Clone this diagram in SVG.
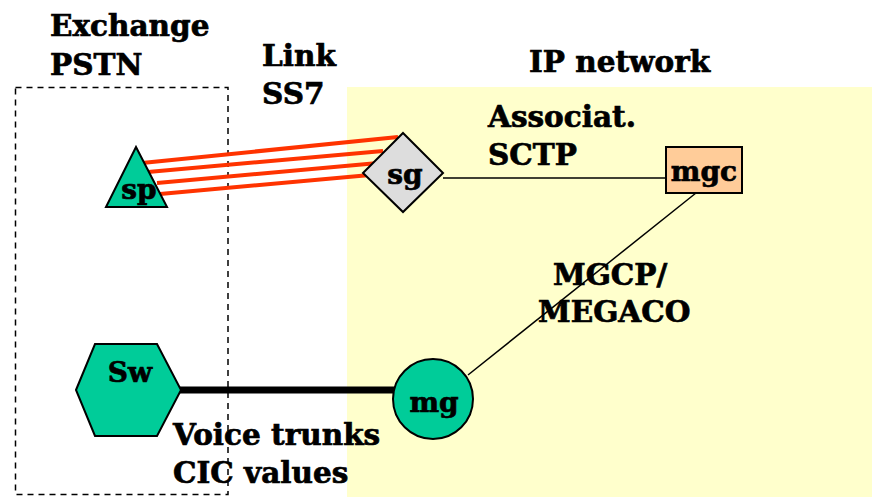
<svg xmlns="http://www.w3.org/2000/svg" width="872" height="497" viewBox="0 0 872 497">
  <style>
    .lbl { font-family: "DejaVu Serif", "Liberation Serif", serif; font-weight: bold; font-size: 29.5px; fill: #000; stroke: #000; stroke-width: 0.7; }
    .node-lbl { font-family: "DejaVu Serif", "Liberation Serif", serif; font-weight: bold; font-size: 28px; fill: #000; stroke: #000; stroke-width: 0.7; text-anchor: middle; }
    .green { fill: #00CC99; stroke: #000; stroke-width: 2; }
    .ss7 { stroke: #FF3300; stroke-width: 4; fill: none; }
    .thin { stroke: #000; stroke-width: 1.5; fill: none; }
  </style>

  <rect width="872" height="497" fill="#FFFFFF"/>

  <!-- IP network area -->
  <rect id="ip-area" x="347" y="87" width="525" height="410" fill="#FFFFCC"/>

  <!-- PSTN exchange boundary -->
  <rect id="pstn-box" x="15.5" y="87.5" width="212.5" height="407" fill="none" stroke="#000" stroke-width="1.5" stroke-dasharray="6,5"/>

  <!-- Area and link labels -->
  <text class="lbl" x="50" y="36">Exchange</text>
  <text class="lbl" x="50" y="75">PSTN</text>
  <text class="lbl" x="262" y="66">Link</text>
  <text class="lbl" x="262" y="104">SS7</text>
  <text class="lbl" x="529" y="72">IP network</text>
  <text class="lbl" x="488" y="127">Associat.</text>
  <text class="lbl" x="488" y="165">SCTP</text>
  <text class="lbl" x="553" y="285">MGCP/</text>
  <text class="lbl" x="538" y="322">MEGACO</text>
  <text class="lbl" x="173" y="445">Voice trunks</text>
  <text class="lbl" x="173" y="483">CIC values</text>

  <!-- Connectors -->
  <g id="connectors">
    <line class="ss7" x1="142" y1="163" x2="398" y2="137"/>
    <line class="ss7" x1="148" y1="172" x2="383" y2="151"/>
    <line class="ss7" x1="157" y1="183" x2="378" y2="163"/>
    <line class="ss7" x1="160" y1="194" x2="370" y2="175"/>
    <line class="thin" x1="443" y1="178" x2="666" y2="178"/>
    <line class="thin" x1="696" y1="193" x2="468" y2="375"/>
    <line x1="180" y1="390" x2="396" y2="390" stroke="#000" stroke-width="7"/>
  </g>

  <!-- Signalling point -->
  <g id="sp">
    <polygon class="green" points="136,147 106,207 167,207"/>
    <text class="node-lbl" x="139" y="199">sp</text>
  </g>

  <!-- Signalling gateway -->
  <g id="sg">
    <polygon points="403,133 443,173 403,212 363,173" fill="#DDDDDD" stroke="#000" stroke-width="2"/>
    <text class="node-lbl" x="405" y="184">sg</text>
  </g>

  <!-- Media gateway controller -->
  <g id="mgc">
    <rect x="666" y="147" width="76" height="46" fill="#FFCC99" stroke="#000" stroke-width="2"/>
    <text class="node-lbl" x="704" y="181">mgc</text>
  </g>

  <!-- Switch -->
  <g id="sw">
    <polygon class="green" points="76,390 95,344 157,344 181,390 157,436 95,436"/>
    <text class="node-lbl" x="130" y="382">Sw</text>
  </g>

  <!-- Media gateway -->
  <g id="mg">
    <circle class="green" cx="433" cy="399" r="40"/>
    <text class="node-lbl" x="434" y="412">mg</text>
  </g>
</svg>
